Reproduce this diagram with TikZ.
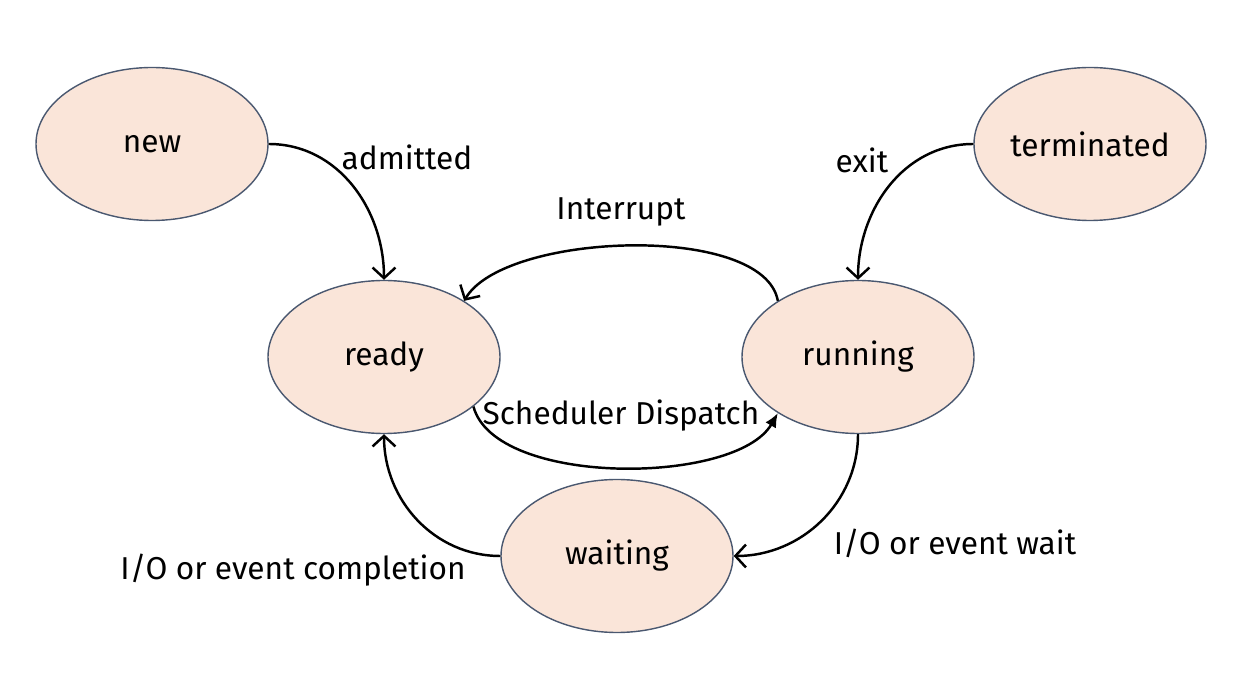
\documentclass[tikz,border=0pt]{standalone}
\usepackage{fontspec}
\setmainfont{Fira Sans}
\usetikzlibrary{arrows.meta}
\usetikzlibrary{shapes.geometric}

\definecolor{statefill}{RGB}{250,229,217}
\definecolor{stateline}{RGB}{74,88,112}

\tikzset{
	state/.style={ellipse, draw=stateline, fill=statefill, line width=0.8pt,
		minimum width=4.64cm, minimum height=3.06cm, inner sep=0pt},
	trans/.style={line width=1.4pt, -{Straight Barb[length=6pt,width=13pt]}},
	lbl/.style={inner sep=0pt}
}

\begin{document}
\begin{tikzpicture}[font=\fontsize{18}{22}\selectfont]
	\useasboundingbox (0,0) rectangle (25.16,13.68);

	\node[state] (new) at (3.04, 10.80) {new};
	\node[state] (terminated) at (21.80, 10.80) {terminated};
	\node[state] (ready) at (7.68, 6.54) {ready};
	\node[state] (running) at (17.16, 6.54) {running};
	\node[state] (waiting) at (12.34, 2.56) {waiting};

	\draw[trans] (new.east) to[out=0,in=90] (ready.north);
	\draw[trans] (terminated.west) to[out=180,in=90] (running.north);
	\draw[trans] (running.145) to[out=100,in=60,looseness=0.65] (ready.35);
	\draw[line width=1.4pt, -{Latex[length=8pt,width=7pt]}] (ready.-29) to[out=-75,in=-120,looseness=0.7] (running.215);
	\draw[trans] (running.south) to[out=-90,in=0] (waiting.east);
	\draw[trans] (waiting.west) to[out=180,in=-90] (ready.south);

	\node[lbl] (admitted) at (8.14, 10.54) {admitted};
	\node[lbl] (exit) at (17.24, 10.48) {exit};
	\node[lbl] (interrupt) at (12.42, 9.44) {Interrupt};
	\node[lbl] (dispatch) at (12.42, 5.36) {Scheduler Dispatch};
	\node[lbl] (iowait) at (19.10, 2.82) {I/O or event wait};
	\node[lbl] (iodone) at (5.86, 2.28) {I/O or event completion};
\end{tikzpicture}
\end{document}
